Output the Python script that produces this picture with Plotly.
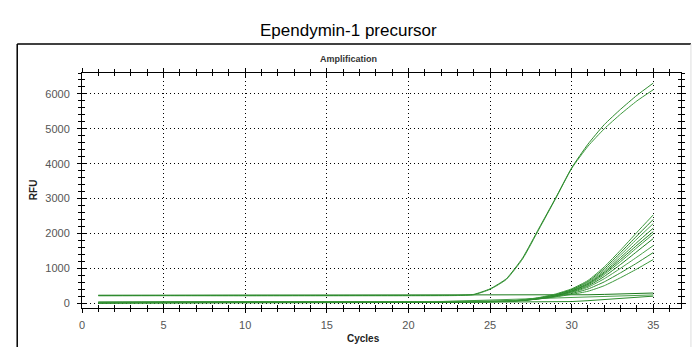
import plotly.graph_objects as go

# ---------------- data ----------------
CYCLES = [1, 5, 10, 15, 20, 22, 23, 24, 25, 26, 27, 28, 29, 30, 31, 32, 33, 34, 35]

HIGH_A = [220, 220, 222, 220, 221, 222, 225, 250, 410, 700, 1300, 2150, 3000, 3880, 4560, 5120, 5560, 5960, 6310]
HIGH_B = [210, 212, 210, 211, 212, 214, 218, 240, 395, 680, 1270, 2120, 2980, 3860, 4500, 5000, 5420, 5800, 6120]
FLAT_C = [225, 225, 226, 226, 227, 228, 228, 229, 229, 230, 230, 231, 232, 234, 240, 250, 262, 275, 290]
FLAT_D = [20, 20, 25, 25, 30, 45, 60, 75, 90, 105, 120, 135, 150, 165, 180, 195, 210, 220, 235]
FLAT_E = [0, 0, 5, 10, 15, 20, 22, 25, 28, 30, 32, 35, 38, 45, 70, 100, 130, 160, 200]

L1 = [30, 35, 40, 42, 45, 48, 50, 52, 55, 60, 95, 160, 260, 410, 650, 1040, 1520, 2030, 2530]
L2 = [25, 30, 35, 40, 42, 45, 48, 50, 52, 58, 90, 150, 245, 390, 620, 990, 1450, 1930, 2400]
L3 = [20, 25, 30, 35, 40, 44, 46, 48, 50, 56, 88, 145, 235, 375, 590, 940, 1380, 1840, 2280]
L4 = [20, 25, 30, 34, 38, 42, 44, 46, 48, 55, 85, 140, 225, 360, 565, 895, 1310, 1740, 2150]
L5 = [15, 20, 28, 32, 36, 40, 42, 44, 46, 54, 84, 138, 220, 350, 545, 860, 1250, 1660, 2050]
L6 = [15, 20, 26, 30, 35, 38, 40, 42, 45, 52, 82, 135, 212, 335, 520, 820, 1190, 1590, 1980]
L7 = [10, 18, 25, 30, 34, 37, 39, 41, 44, 52, 80, 130, 205, 320, 490, 765, 1110, 1480, 1850]
L8 = [10, 15, 22, 28, 32, 36, 38, 40, 42, 50, 78, 128, 195, 300, 455, 700, 1000, 1320, 1650]
L9 = [5, 12, 20, 26, 30, 34, 36, 38, 40, 50, 76, 124, 185, 275, 405, 610, 870, 1150, 1450]
L10 = [5, 10, 18, 24, 28, 32, 34, 36, 38, 50, 75, 120, 180, 250, 340, 500, 730, 980, 1250]

X_TICKS = [0, 5, 10, 15, 20, 25, 30, 35]
Y_TICKS = [0, 1000, 2000, 3000, 4000, 5000, 6000]

TITLE = "Ependymin-1 precursor"
SUBTITLE = "Amplification"
X_TITLE = "Cycles"
Y_TITLE = "RFU"

# ---------------- layout helpers ----------------
W, H = 698, 347
L, R, T, B = 82, 683, 73, 308


def px(x):
    return (x - L) / (R - L)


def py(y):
    return (B - y) / (B - T)


series = [
    (FLAT_E, "#2a8a2a", "linear"), (FLAT_D, "#4a9f4a", "linear"), (FLAT_C, "#1a7a1a", "linear"),
    (L10, "#3d9a3d", "spline"), (L9, "#2e8b2e", "spline"), (L8, "#4aa04a", "spline"),
    (L7, "#1f7f1f", "spline"), (L6, "#3d9a3d", "spline"), (L5, "#1f7f1f", "spline"),
    (L4, "#2e8b2e", "spline"), (L3, "#4aa04a", "spline"), (L2, "#1f7f1f", "spline"),
    (L1, "#3d9a3d", "spline"),
    (HIGH_B, "#3d9a3d", "spline"), (HIGH_A, "#2e8b2e", "spline"),
]

fig = go.Figure()
for vals, color, shape in series:
    line = dict(color=color, width=1, shape=shape)
    if shape == "spline":
        line["smoothing"] = 0.5
    fig.add_trace(go.Scatter(x=CYCLES, y=vals, mode="lines", line=line,
                             showlegend=False, hoverinfo="skip"))
# empty trace to create the overlay axes (crossing ticks)
fig.add_trace(go.Scatter(x=[None], y=[None], xaxis="x2", yaxis="y2",
                         showlegend=False, hoverinfo="skip"))

XR = [0, 36.7]
YR = [-140, 6600]
tickfont = dict(family="Liberation Sans, Arial", size=11, color="#555555")

fig.update_layout(
    width=W, height=H,
    margin=dict(l=L, r=W - R, t=T, b=H - B),
    paper_bgcolor="white", plot_bgcolor="white",
    xaxis=dict(range=XR, tickvals=X_TICKS, ticks="outside", ticklen=4,
               tickcolor="black", minor=dict(dtick=1, ticks="outside", ticklen=3, tickcolor="black"),
               showline=True, linecolor="black", linewidth=1, mirror="ticks",
               showgrid=True, gridcolor="black", gridwidth=1, griddash="1px,3px",
               zeroline=False, tickfont=tickfont, ticklabelstandoff=3, fixedrange=True),
    yaxis=dict(range=YR, tickvals=Y_TICKS, ticks="outside", ticklen=4,
               tickcolor="black", minor=dict(dtick=200, tick0=0, ticks="outside", ticklen=3, tickcolor="black"),
               showline=True, linecolor="black", linewidth=1, mirror="ticks",
               showgrid=True, gridcolor="black", gridwidth=1, griddash="1px,3px",
               zeroline=False, tickfont=tickfont, ticklabelstandoff=5, fixedrange=True),
    xaxis2=dict(range=XR, overlaying="x", anchor="y2", tickvals=X_TICKS, ticks="inside",
                ticklen=4, tickcolor="black",
                minor=dict(dtick=1, ticks="inside", ticklen=3, tickcolor="black"),
                showticklabels=False, showgrid=False, zeroline=False,
                showline=False, mirror="ticks", fixedrange=True),
    yaxis2=dict(range=YR, overlaying="y", anchor="x2", tickvals=Y_TICKS, ticks="inside",
                ticklen=4, tickcolor="black",
                minor=dict(dtick=200, tick0=0, ticks="inside", ticklen=3, tickcolor="black"),
                showticklabels=False, showgrid=False, zeroline=False,
                showline=False, mirror="ticks", fixedrange=True),
)

font_main = "Liberation Sans, Arial"
fig.add_annotation(text=TITLE, xref="paper", yref="paper", x=px(349), y=py(31),
                   showarrow=False, xanchor="center", yanchor="middle",
                   font=dict(family=font_main, size=17, color="black"))
fig.add_annotation(text="<b>" + SUBTITLE + "</b>", xref="paper", yref="paper", x=px(349), y=py(59),
                   showarrow=False, xanchor="center", yanchor="middle",
                   font=dict(family=font_main, size=9, color="#333333"))
fig.add_annotation(text="<b>" + X_TITLE + "</b>", xref="paper", yref="paper", x=px(364), y=py(338),
                   showarrow=False, xanchor="center", yanchor="middle",
                   font=dict(family=font_main, size=10, color="#222222"))
fig.add_annotation(text="<b>" + Y_TITLE + "</b>", xref="paper", yref="paper", x=px(33), y=py(190),
                   showarrow=False, xanchor="center", yanchor="middle", textangle=-90,
                   font=dict(family=font_main, size=10, color="#222222"))

# outer frame of the screenshot
fig.add_shape(type="line", xref="paper", yref="paper", x0=px(17), x1=px(693), y0=py(44), y1=py(44),
              line=dict(color="black", width=1.5))
fig.add_shape(type="line", xref="paper", yref="paper", x0=px(17), x1=px(17), y0=py(44), y1=py(360),
              line=dict(color="black", width=1.5))
fig.add_shape(type="line", xref="paper", yref="paper", x0=px(693), x1=px(693), y0=py(44), y1=py(360),
              line=dict(color="#dddddd", width=1))

fig.write_html("out.html")
